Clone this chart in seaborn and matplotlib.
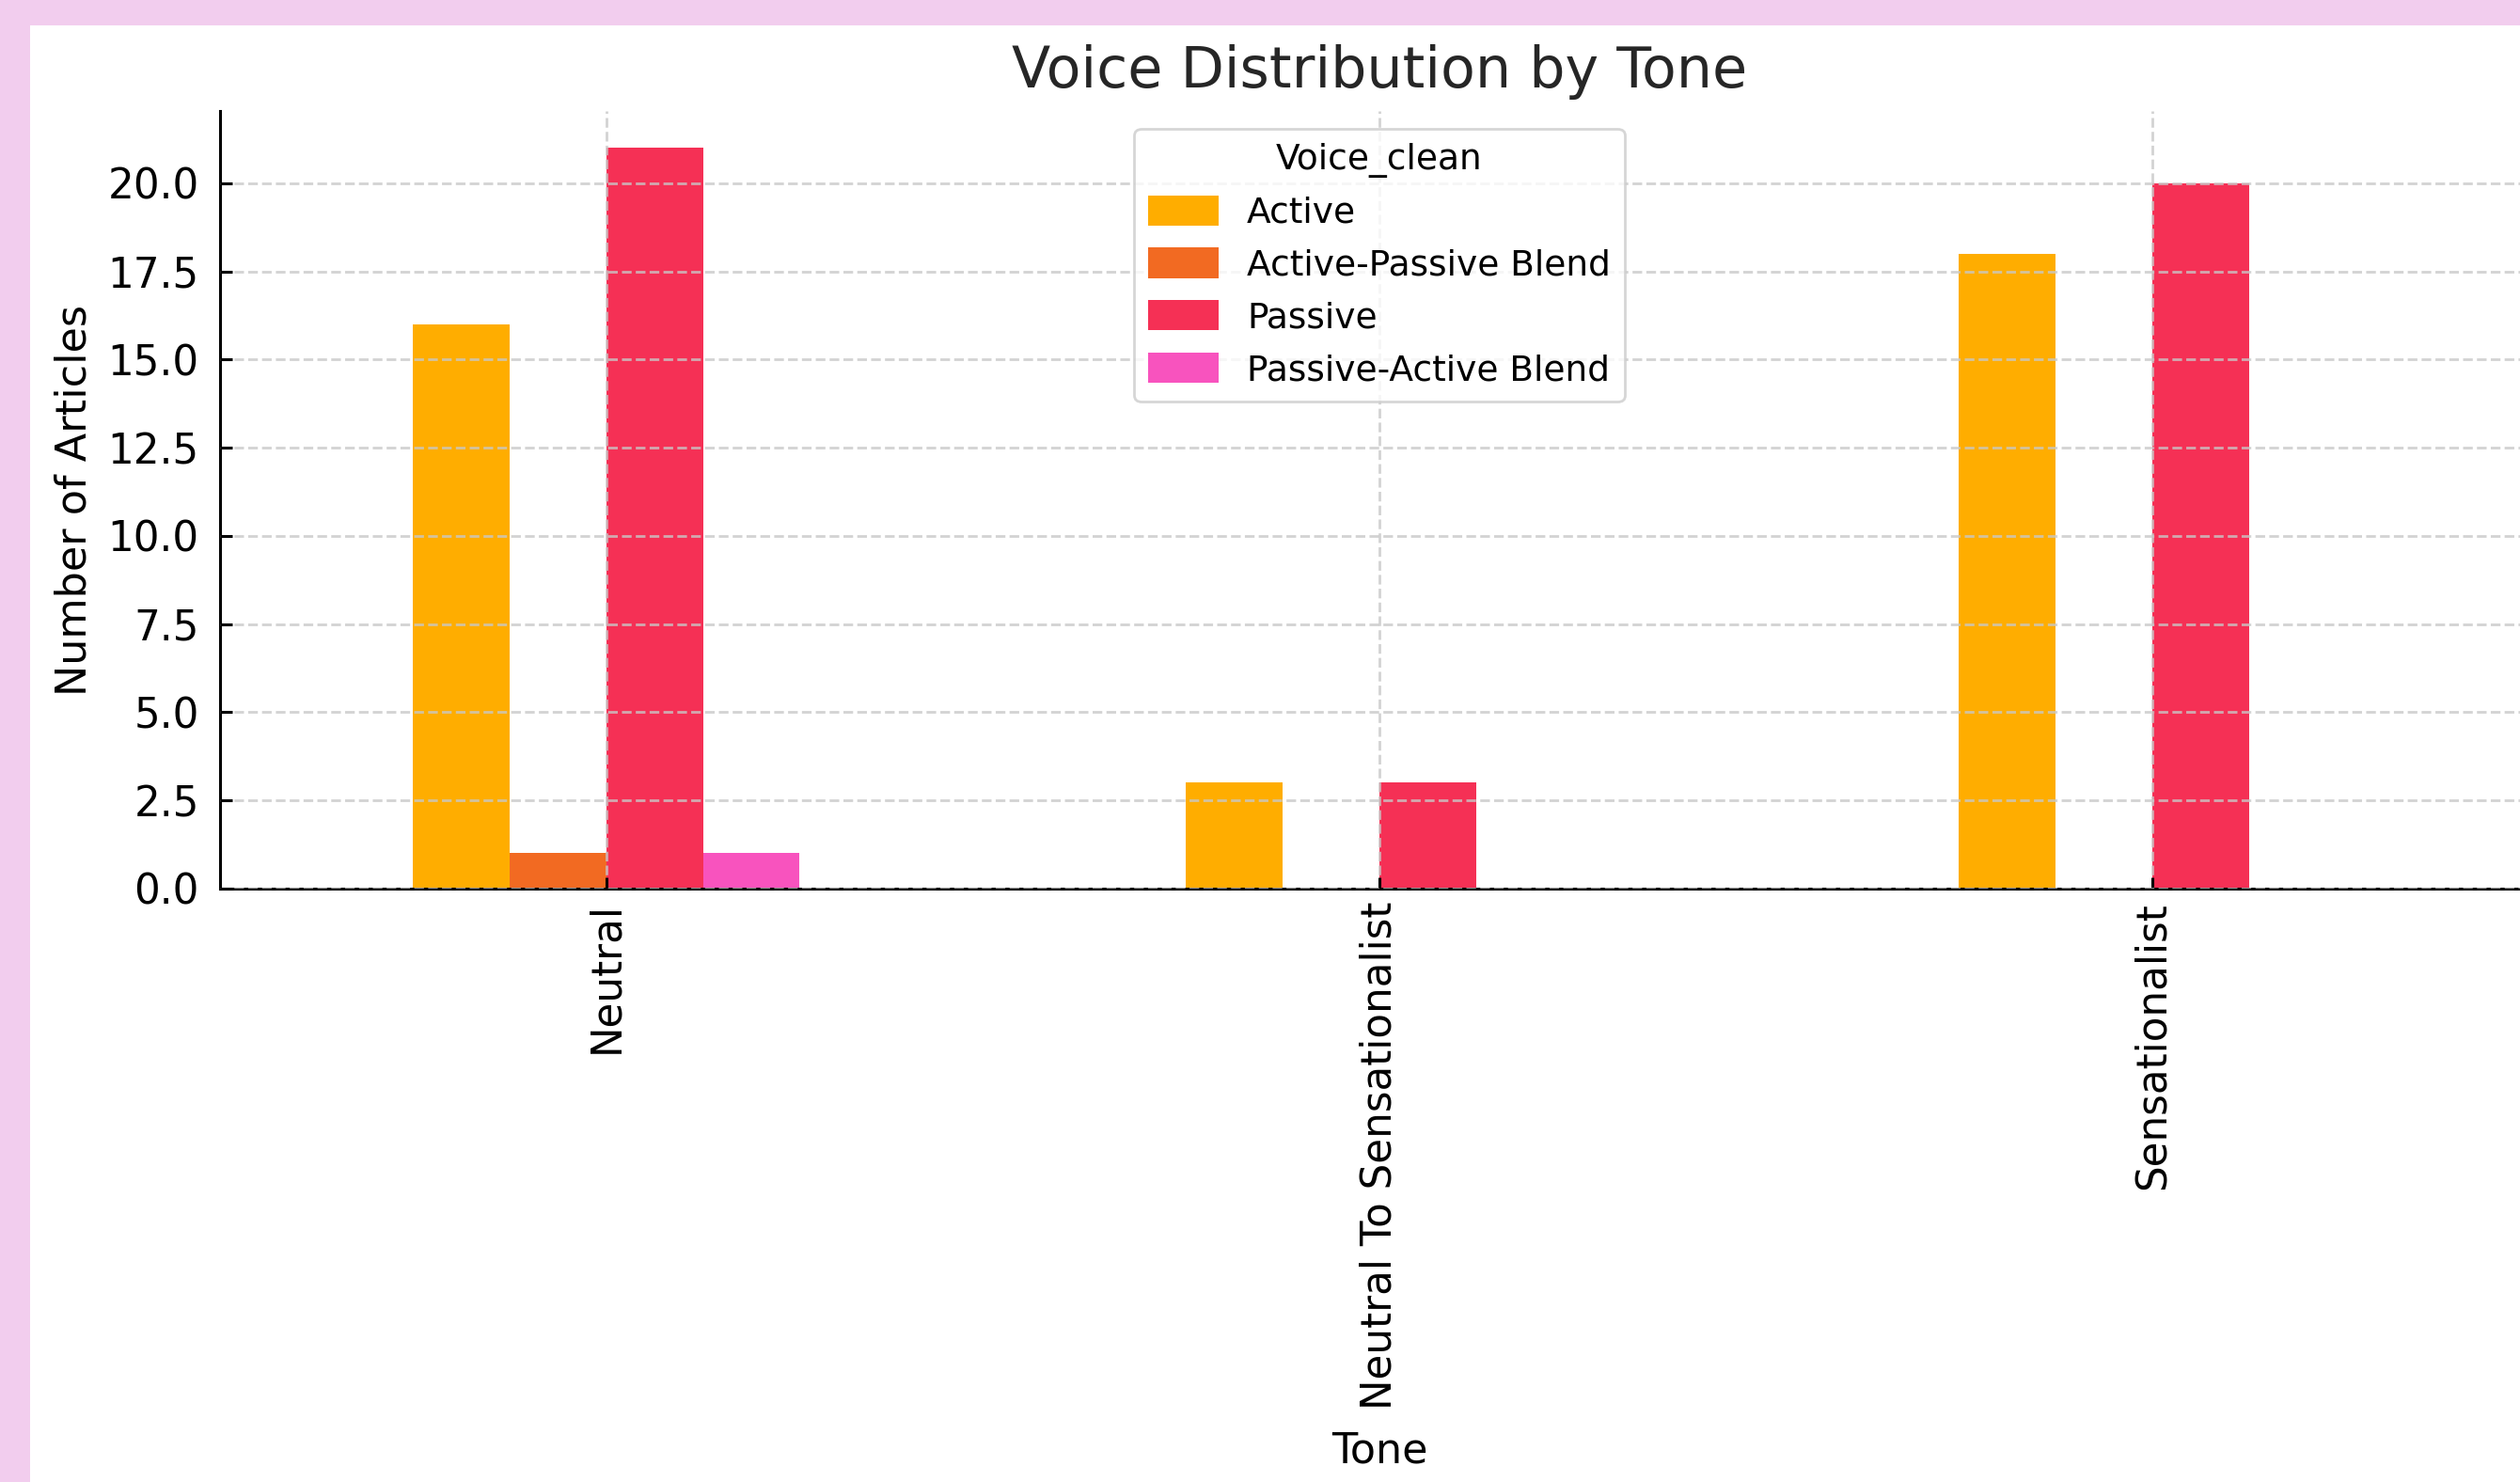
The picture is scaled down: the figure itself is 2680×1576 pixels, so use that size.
import matplotlib
matplotlib.use('Agg')
import matplotlib.pyplot as plt
import pandas as pd
import seaborn as sns
from matplotlib.patches import Rectangle

# data
tones = ['Neutral', 'Neutral To Sensationalist', 'Sensationalist']
voices = ['Active', 'Active-Passive Blend', 'Passive', 'Passive-Active Blend']
active = [16, 3, 18]
active_passive = [1, 0, 0]
passive = [21, 3, 20]
passive_active = [1, 0, 0]
colors = ['#FFAD00', '#F26A22', '#F53055', '#F853BE']

rows = []
for vals, voice in zip([active, active_passive, passive, passive_active], voices):
    for tone, v in zip(tones, vals):
        rows.append({'Tone': tone, 'Voice_clean': voice, 'count': v})
df = pd.DataFrame(rows)

plt.rcParams['font.family'] = ['DejaVu Sans']

fig = plt.figure(figsize=(13.4, 7.88), dpi=200)
fig.patch.set_facecolor('#F2CDEE')
# white panel, leaving the pink band at top and left
fig.patches.append(Rectangle((32 / 2680, 0), 1, 1 - 27 / 1576, transform=fig.transFigure,
                             facecolor='white', edgecolor='none', zorder=-10))

ax = fig.add_axes([234 / 2680, (1576 - 945) / 1576, 2466 / 2680, (945 - 118) / 1576])
ax.set_facecolor('none')

sns.barplot(data=df, x='Tone', y='count', hue='Voice_clean', order=tones, hue_order=voices,
            palette=colors, width=0.5, errorbar=None, saturation=1, ax=ax)

ax.set_xlim(-0.5, 2.5)
ax.set_ylim(0, 22.05)
ax.set_yticks([0, 2.5, 5, 7.5, 10, 12.5, 15, 17.5, 20])
ax.set_yticklabels([f'{t:.1f}' for t in ax.get_yticks()])

ax.grid(True, linestyle='--', color='#c8c8c8', linewidth=1.0, alpha=0.8)
ax.set_axisbelow(False)
for s in ['top', 'right']:
    ax.spines[s].set_visible(False)
for s in ['left', 'bottom']:
    ax.spines[s].set_linewidth(1.1)
    ax.spines[s].set_color('black')

ax.tick_params(axis='both', direction='in', length=4.5, width=1.1, labelsize=15.7, colors='black')
ax.tick_params(axis='x', rotation=90, pad=5)
ax.tick_params(axis='y', pad=8)

ax.set_title('Voice Distribution by Tone', fontsize=21.7, color='#262626', pad=9)
ax.set_xlabel('Tone', fontsize=16, labelpad=8)
ax.set_ylabel('Number of Articles', fontsize=16, labelpad=5)

sns.move_legend(ax, 'upper center', title='Voice_clean', fontsize=13.5, title_fontsize=13.5,
                frameon=True, handleheight=0.95, labelspacing=0.5)

fig.savefig('out.png', dpi=200, facecolor=fig.get_facecolor())
